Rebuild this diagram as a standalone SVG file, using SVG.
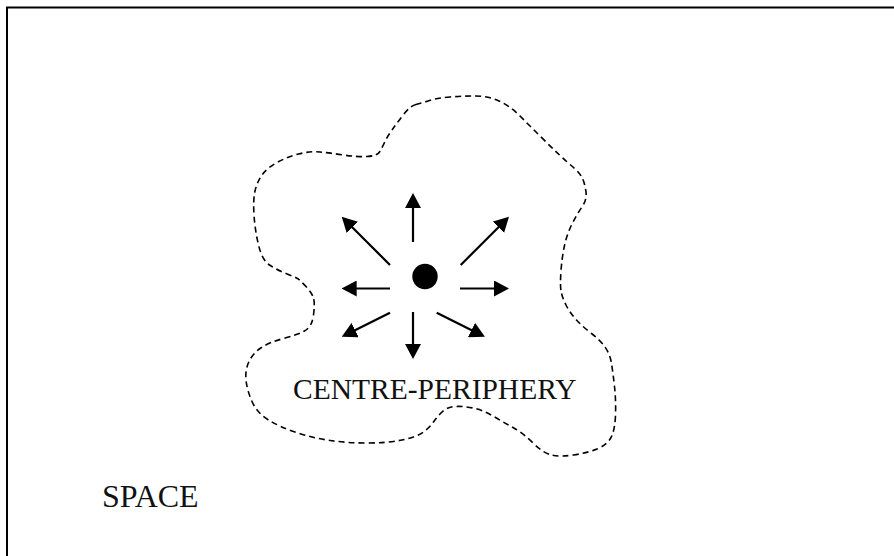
<svg xmlns="http://www.w3.org/2000/svg" width="894" height="556" viewBox="0 0 894 556">
  <style>
    .frame { fill: none; stroke: #000; stroke-width: 2; }
    .region { fill: none; stroke: #000; stroke-width: 1.6; stroke-dasharray: 6 4; }
    .arrow { stroke: #000; stroke-width: 2.2; fill: none; marker-end: url(#head); }
    .label { font-family: "Liberation Serif", "Times New Roman", serif; fill: #111; }
  </style>
  <defs>
    <marker id="head" markerUnits="userSpaceOnUse" markerWidth="15" markerHeight="16" refX="3" refY="8" orient="auto" viewBox="0 0 15 16">
      <path d="M0,0 L15,8 L0,16 Z" fill="#000"/>
    </marker>
  </defs>
  <rect class="frame" x="7" y="7.5" width="900" height="560"/>
  <g id="centre-periphery-region">
    <path class="region" d="M 416,104.5 Q 422,103 429.5,100.5 Q 437,98 450,97 Q 463,96 475.5,96 Q 488,96 499,101 Q 510,106 520,116 Q 530,126 540,136 Q 550,146 558.5,154 Q 567,162 573.5,167.5 Q 580,173 582.5,178.5 Q 585,184 586,192 Q 587,200 582,207 Q 577,214 572,224 Q 567,234 564.5,245.5 Q 562,257 561,271 Q 560,285 561,291 Q 562,297 566,305 Q 570,313 576.5,320 Q 583,327 591.5,333.5 Q 600,340 605,347 Q 610,354 611.5,363.5 Q 613,373 614.5,386.5 Q 616,400 615.5,415 Q 615,430 611,437.5 Q 607,445 597,449 Q 587,453 573.5,455 Q 560,457 551.5,455 Q 543,453 533,443 Q 523,433 513,427.5 Q 503,422 493,416 Q 483,410 473,408 Q 463,406 455,406.5 Q 447,407 442,412 Q 437,417 433.5,422 Q 430,427 423.5,432 Q 417,437 402,440 Q 387,443 367,443 Q 347,443 330,440.5 Q 313,438 296.5,432.5 Q 280,427 268.5,420 Q 257,413 252,401.5 Q 247,390 246,380 Q 245,370 249,361.5 Q 253,353 261.5,347.5 Q 270,342 283.5,338.5 Q 297,335 304.5,331 Q 312,327 313.5,315 Q 315,303 313.5,298 Q 312,293 306,286.5 Q 300,280 297.5,278.5 Q 295,277 286,273.5 Q 277,270 269.5,265 Q 262,260 258.5,245 Q 255,230 254,215 Q 253,200 255,191 Q 257,182 262,175 Q 267,168 277,162.5 Q 287,157 298.5,154 Q 310,151 320,152 Q 330,153 343.5,155 Q 357,157 367,156.5 Q 377,156 379.5,152 Q 382,148 384.5,142.5 Q 387,137 392,130 Q 397,123 403.5,114.5 Q 410,106 416,104.5 Z"/>
    <text class="label" x="293" y="399" font-size="29.5">CENTRE-PERIPHERY</text>
  </g>
  <g id="centre">
    <circle cx="425" cy="276.5" r="12.7" fill="#000"/>
  </g>
  <g id="connectors">
    <line class="arrow" x1="413" y1="242" x2="413" y2="205"/>
    <line class="arrow" x1="390" y1="265" x2="350.2" y2="225.2"/>
    <line class="arrow" x1="460.7" y1="265" x2="500.5" y2="225.2"/>
    <line class="arrow" x1="390" y1="288.5" x2="353.7" y2="288.5"/>
    <line class="arrow" x1="460" y1="288.5" x2="497" y2="288.5"/>
    <line class="arrow" x1="390" y1="312.7" x2="352.5" y2="331.4"/>
    <line class="arrow" x1="413" y1="312" x2="413" y2="347"/>
    <line class="arrow" x1="436.7" y1="312.7" x2="474.2" y2="331.4"/>
  </g>
  <g id="space">
    <text class="label" x="102" y="507" font-size="32">SPACE</text>
  </g>
</svg>
